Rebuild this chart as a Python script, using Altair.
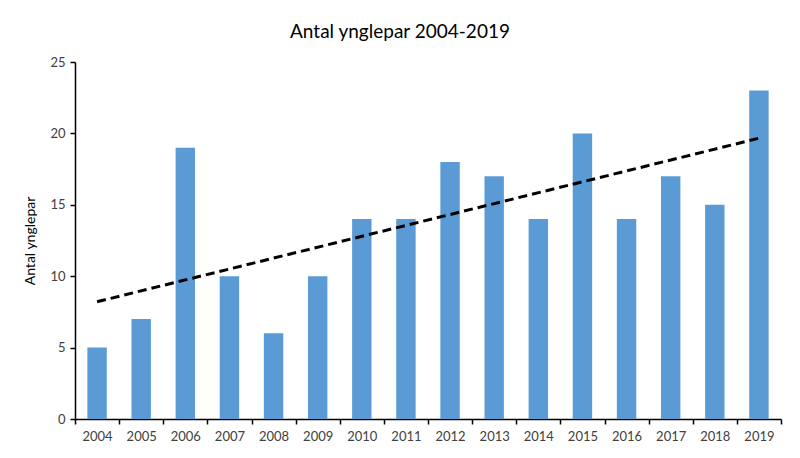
import altair as alt
import pandas as pd

years = [2004, 2005, 2006, 2007, 2008, 2009, 2010, 2011,
         2012, 2013, 2014, 2015, 2016, 2017, 2018, 2019]
pairs = [5, 7, 19, 10, 6, 10, 14, 14, 18, 17, 14, 20, 14, 17, 15, 23]

df = pd.DataFrame({"year": years, "pairs": pairs})

FONT = "Lato"

x = alt.X(
    "year:O",
    scale=alt.Scale(paddingInner=0, paddingOuter=0),
    axis=alt.Axis(
        title=None, labelAngle=0, tickBand="extent",
        domainColor="black", tickColor="black", domainWidth=1.5, tickWidth=1.5,
        tickSize=5, labelPadding=6, labelFontSize=13, labelColor="#404040",
        labelFont=FONT,
    ),
)
y = alt.Y(
    "pairs:Q",
    scale=alt.Scale(domain=[0, 25], nice=False),
    axis=alt.Axis(
        title="Antal ynglepar", values=[0, 5, 10, 15, 20, 25], grid=False,
        domainColor="black", tickColor="black", domainWidth=1.5, tickWidth=1.5,
        tickSize=5, labelPadding=5, labelFontSize=13, labelColor="#404040",
        labelFont=FONT, titleFont=FONT, titleFontSize=14, titleFontWeight="normal",
        titleColor="black", titlePadding=12,
    ),
)

bars = alt.Chart(df).mark_bar(
    color="#5B9BD5", width=alt.RelativeBandSize(0.44)
).encode(x=x, y=y)

trend = alt.Chart(df).transform_regression("year", "pairs").mark_line(
    color="black", strokeWidth=3, strokeDash=[9, 5]
).encode(x=x, y=y)

chart = alt.layer(bars, trend).properties(
    width=706,
    height=357,
    padding={"left": 67, "top": 54, "right": 10, "bottom": 30},
    autosize=alt.AutoSizeParams(type="none"),
    title=alt.TitleParams(
        "Antal ynglepar 2004-2019", font=FONT, fontSize=19, fontWeight="normal",
        color="black", offset=14, dx=-28, anchor="middle",
    ),
).configure_view(stroke=None)

chart.save("out.html", embed_options={"renderer": "svg", "actions": False})
